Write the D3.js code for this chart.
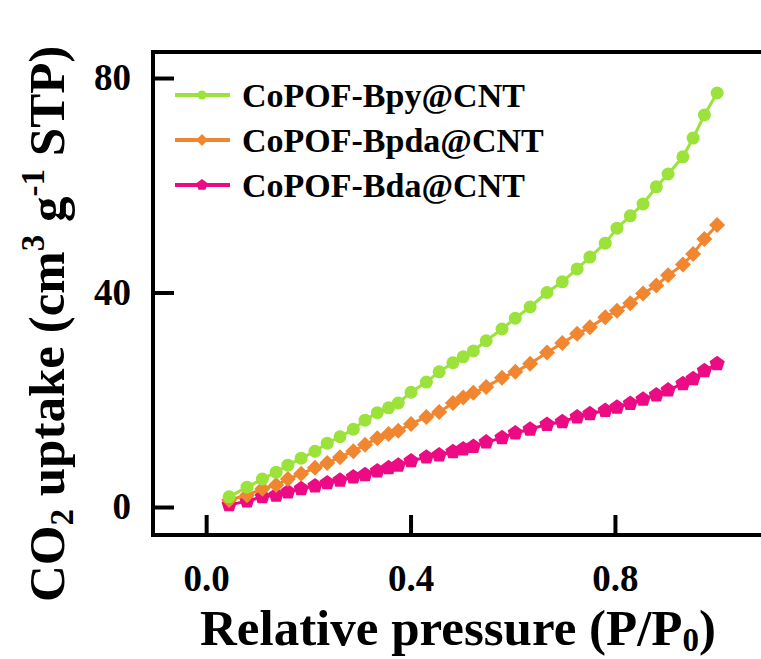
<!DOCTYPE html>
<html>
<head>
<meta charset="utf-8">
<title>CO2 uptake</title>
<script src="https://d3js.org/d3.v7.min.js"></script>
<style>
  body { margin: 0; background: #fff; }
  text { font-family: "Liberation Serif", "Times New Roman", serif; font-weight: bold; fill: #000; }
</style>
</head>
<body>
<div id="chart"></div>
<script>
// relative pressure (shared by all three series)
var pressure = [0.045, 0.080, 0.110, 0.137, 0.160, 0.186, 0.213, 0.237, 0.262, 0.288,
                0.311, 0.335, 0.357, 0.376, 0.401, 0.431, 0.456, 0.483, 0.503, 0.523,
                0.548, 0.579, 0.605, 0.634, 0.667, 0.697, 0.726, 0.751, 0.781, 0.804,
                0.830, 0.855, 0.881, 0.904, 0.933, 0.953, 0.975, 1.000];

var bpy  = [1.9, 3.7, 5.2, 6.5, 7.8, 9.1, 10.4, 11.9, 13.1, 14.5,
            16.2, 17.6, 18.5, 19.4, 21.4, 23.3, 25.2, 26.9, 28.0, 29.1,
            31.0, 33.2, 35.2, 37.3, 40.0, 42.0, 44.4, 46.6, 49.2, 52.0,
            54.3, 56.5, 59.7, 62.1, 65.3, 68.8, 73.1, 77.2];

var bpda = [1.3, 2.2, 3.4, 4.1, 5.2, 6.2, 7.3, 8.2, 9.3, 10.4,
            11.6, 12.8, 13.6, 14.2, 15.5, 16.8, 17.7, 19.4, 20.4, 21.3,
            22.4, 24.1, 25.2, 26.7, 28.8, 30.6, 32.3, 33.5, 35.4, 36.6,
            38.0, 39.8, 41.3, 43.2, 45.2, 47.2, 50.0, 52.6];

var bda  = [0.4, 1.1, 1.9, 2.2, 2.8, 3.4, 3.9, 4.5, 5.0, 5.6,
            6.0, 6.7, 7.3, 7.8, 8.6, 9.3, 9.7, 10.3, 10.8, 11.3,
            12.1, 12.9, 13.8, 14.5, 15.4, 15.9, 16.8, 17.4, 18.0, 18.6,
            19.3, 20.1, 20.9, 21.8, 23.0, 23.9, 25.4, 26.7];

var seriesNames = ["CoPOF-Bpy@CNT", "CoPOF-Bpda@CNT", "CoPOF-Bda@CNT"];
var seriesColors = ["#9be23a", "#f0862f", "#ec0b84"];
var seriesShapes = ["circle", "diamond", "pentagon"];
var xTicks = [0.0, 0.4, 0.8];
var yTicks = [0, 40, 80];

var width = 761, height = 659;

var svg = d3.select("#chart").append("svg")
    .attr("width", width)
    .attr("height", height);

// plot frame continues past the right edge of the picture
var plotLeft = 153, plotTop = 52, plotBottom = 535;
var x = d3.scaleLinear().domain([-0.104, 1.2]).range([plotLeft, plotLeft + 1.304 * 511]);
var y = d3.scaleLinear().domain([-5.22, 84.85]).range([plotBottom, plotTop]);

// marker shapes
function shapePath(shape, r) {
  if (shape == "circle") return d3.symbol(d3.symbolCircle, Math.PI * r * r)();
  if (shape == "diamond") return "M0," + (-r) + "L" + r + ",0L0," + r + "L" + (-r) + ",0Z";
  var pts = [];
  for (var k = 0; k < 5; k++) {
    var a = -Math.PI / 2 + k * 2 * Math.PI / 5;
    pts.push([r * Math.cos(a), r * Math.sin(a)]);
  }
  return "M" + pts.join("L") + "Z";
}
var markerSize = { circle: 6.5, diamond: 8, pentagon: 8 };

var data = [bpy, bpda, bda].map(function(vals, i) {
  return { name: seriesNames[i], color: seriesColors[i], shape: seriesShapes[i],
           points: vals.map(function(v, j) { return [pressure[j], v]; }) };
});

var line = d3.line()
    .x(function(d) { return x(d[0]); })
    .y(function(d) { return y(d[1]); });

// draw bottom series first so the green one is on top
data.slice().reverse().forEach(function(s) {
  svg.append("path")
      .attr("d", line(s.points))
      .attr("fill", "none")
      .attr("stroke", s.color)
      .attr("stroke-width", 3);
  svg.selectAll(null).data(s.points).enter().append("path")
      .attr("d", shapePath(s.shape, markerSize[s.shape]))
      .attr("transform", function(d) { return "translate(" + x(d[0]) + "," + y(d[1]) + ")"; })
      .attr("fill", s.color);
});

// axes
var yAxis = d3.axisLeft(y).tickValues(yTicks).tickSize(-21).tickPadding(22).tickFormat(d3.format("d"));
var xAxis = d3.axisBottom(x).tickValues(xTicks).tickSize(-20).tickPadding(30).tickFormat(d3.format(".1f"));

var gy = svg.append("g").attr("transform", "translate(" + plotLeft + ",0)").call(yAxis);
var gx = svg.append("g").attr("transform", "translate(0," + plotBottom + ")").call(xAxis);
[gy, gx].forEach(function(g) {
  g.select(".domain").remove();
  g.selectAll(".tick line").attr("stroke", "#000").attr("stroke-width", 4);
  g.selectAll(".tick text").attr("font-size", 37).attr("font-family", null).style("fill", "#000");
});

// frame: left, top and bottom edges
svg.append("path")
    .attr("d", "M" + (width + 10) + "," + plotTop + "H" + plotLeft + "V" + plotBottom + "H" + (width + 10))
    .attr("fill", "none")
    .attr("stroke", "#000")
    .attr("stroke-width", 4);

// legend
var legend = svg.append("g");
data.forEach(function(s, i) {
  var ly = 95 + i * 45;
  legend.append("line")
      .attr("x1", 175).attr("x2", 230).attr("y1", ly).attr("y2", ly)
      .attr("stroke", s.color).attr("stroke-width", 4);
  legend.append("path")
      .attr("d", shapePath(s.shape, markerSize[s.shape] - 2))
      .attr("transform", "translate(202," + ly + ")")
      .attr("fill", s.color);
  legend.append("text")
      .attr("x", 242).attr("y", ly + 12)
      .attr("font-size", 34)
      .text(s.name);
});

// axis titles
var xt = svg.append("text")
    .attr("x", 200).attr("y", 645)
    .attr("font-size", 51);
xt.append("tspan").text("Relative pressure (P/P");
xt.append("tspan").attr("font-size", 33).attr("dy", 6).text("0");
xt.append("tspan").attr("dy", -6).text(")");

var yt = svg.append("text")
    .attr("transform", "translate(64,602) rotate(-90)")
    .attr("font-size", 51);
yt.append("tspan").text("CO");
yt.append("tspan").attr("font-size", 33).attr("dy", 9).text("2");
yt.append("tspan").attr("dy", -9).text(" uptake (cm");
yt.append("tspan").attr("font-size", 33).attr("dy", -20).text("3");
yt.append("tspan").attr("dy", 20).text(" g");
yt.append("tspan").attr("font-size", 33).attr("dy", -20).text("-1");
yt.append("tspan").attr("dy", 20).text(" STP)");
</script>
</body>
</html>
